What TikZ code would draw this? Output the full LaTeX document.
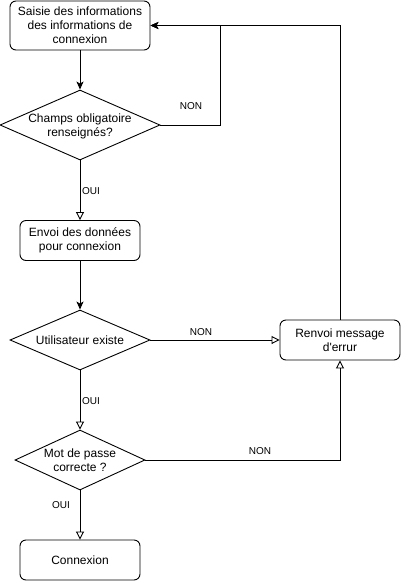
\documentclass[tikz,border=0pt]{standalone}
\usepackage{fontspec}
\setmainfont{Liberation Sans}
\usetikzlibrary{shapes.geometric,arrows.meta}
\tikzset{
  x=1pt,y=-1pt,
  every path/.style={line width=0.9pt},
  box/.style={draw,rounded corners=6pt,align=center,inner sep=0pt,font=\fontsize{12}{14}\selectfont},
  dia/.style={draw,diamond,inner sep=0pt},
  diatext/.style={align=center,inner sep=0pt,font=\fontsize{12}{14}\selectfont},
  lbl/.style={font=\fontsize{10}{12}\selectfont,inner sep=0pt},
  fl/.style={-{Stealth[length=8pt,width=7pt,inset=2pt]}},
  op/.style={-{Triangle[open,length=8pt,width=8pt]}}
}
\begin{document}
\begin{tikzpicture}
\useasboundingbox (0,0) rectangle (402,582);
\node[box,minimum width=140pt,minimum height=49pt] (b1) at (80,25.5) {Saisie des informations\\des informations de\\connexion};
\node[dia,minimum width=160pt,minimum height=70pt] (d1) at (80,125) {};
\node[diatext] (d1t) at (80,126) {Champs obligatoire\\renseignés?};
\node[box,minimum width=120pt,minimum height=40pt] (b2) at (80,240.5) {Envoi des données\\pour connexion};
\node[dia,minimum width=140pt,minimum height=60pt] (d2) at (80,340) {};
\node[diatext] (d2t) at (80,340) {Utilisateur existe};
\node[box,minimum width=120pt,minimum height=40pt] (b3) at (340,340) {Renvoi message\\d\textquotesingle errur};
\node[dia,minimum width=130pt,minimum height=60pt] (d3) at (80,460) {};
\node[diatext] (d3t) at (80,460) {Mot de passe\\correcte ?};
\node[box,minimum width=120pt,minimum height=40pt] (b4) at (80,560) {Connexion};
\coordinate (c1) at (220,125);
\draw[fl] (b1.south) -- (d1.north);
\draw[fl] (d1.east) -- (c1) |- (b1.east);
\draw[fl] (b3.north) |- (b1.east);
\draw[op] (d1.south) -- (b2.north);
\draw[fl] (b2.south) -- (d2.north);
\draw[op] (d2.east) -- (b3.west);
\draw[op] (d2.south) -- (d3.north);
\draw[op] (d3.east) -| (b3.south);
\draw[op] (d3.south) -- (b4.north);
\node[lbl] (l1) at (191,106) {NON};
\node[lbl] (l2) at (91,191) {OUI};
\node[lbl] (l3) at (201,332) {NON};
\node[lbl] (l4) at (91,401) {OUI};
\node[lbl] (l5) at (260,451) {NON};
\node[lbl] (l6) at (61,505) {OUI};
\end{tikzpicture}
\end{document}
